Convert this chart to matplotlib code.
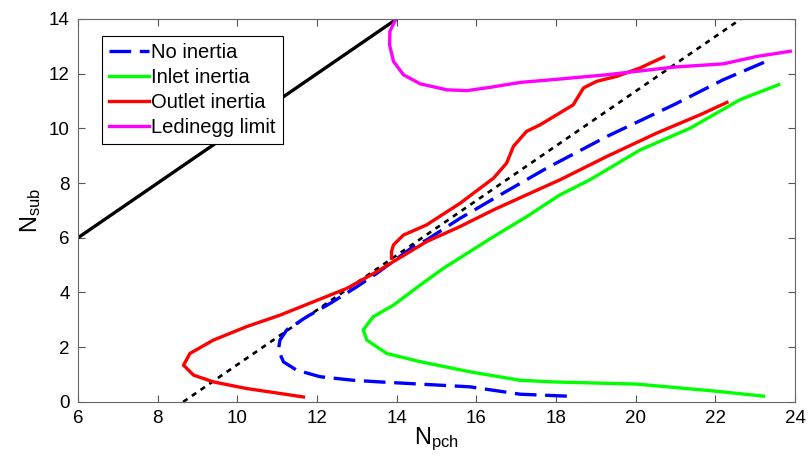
import matplotlib
matplotlib.use('Agg')
from matplotlib import pyplot as plt
import numpy as np

plt.rcParams['font.family'] = ['Liberation Sans', 'DejaVu Sans']
plt.rcParams['mathtext.default'] = 'regular'

# No inertia (blue dashed)
no_x = [18.27, 17.10, 15.84, 14.59, 13.58, 12.91, 12.08, 11.49, 11.16, 11.03, 11.07, 11.24,
        11.74, 12.33, 13.00, 13.50, 14.42, 14.75, 15.59, 16.60, 17.77, 19.27, 20.95,
        22.20, 23.42]
no_y = [0.21, 0.28, 0.55, 0.65, 0.73, 0.79, 0.92, 1.16, 1.46, 1.89, 2.26, 2.63,
        3.11, 3.60, 4.21, 4.70, 5.68, 5.92, 6.71, 7.57, 8.55, 9.70, 10.86,
        11.78, 12.54]

# Inlet inertia (green)
in_x = [23.21, 21.95, 20.03, 17.93, 17.10, 15.84, 14.59, 13.75, 13.25, 13.16, 13.41, 13.92,
        14.59, 15.17, 16.43, 17.26, 18.10, 18.85, 20.11, 21.37, 22.62, 23.59]
in_y = [0.21, 0.40, 0.65, 0.73, 0.79, 1.10, 1.47, 1.77, 2.26, 2.63, 3.11, 3.54,
        4.27, 4.88, 6.04, 6.77, 7.57, 8.12, 9.21, 10.01, 11.05, 11.60]

# Outlet inertia (red), main branch
out_x = [11.66, 10.23, 9.40, 8.90, 8.65, 8.81, 9.40, 10.23, 11.07, 11.91, 12.75,
         13.50, 13.92, 14.75, 15.59, 16.43, 17.26, 18.10, 19.27, 20.53, 21.62, 22.29]
out_y = [0.18, 0.49, 0.73, 0.98, 1.34, 1.77, 2.26, 2.75, 3.17, 3.66, 4.15,
         4.76, 5.13, 5.86, 6.41, 7.02, 7.57, 8.12, 8.97, 9.83, 10.50, 10.95]
# Outlet inertia, upper branch
out2_x = [13.87, 13.87, 13.92, 14.17, 14.75, 15.59, 16.43, 16.76, 16.93, 17.26, 17.60,
          18.43, 18.69, 19.02, 19.52, 20.11, 20.70]
out2_y = [5.25, 5.50, 5.74, 6.10, 6.47, 7.26, 8.18, 8.73, 9.34, 9.89, 10.13,
          10.86, 11.48, 11.72, 11.90, 12.21, 12.61]

# Ledinegg limit (magenta)
led_x = [13.96, 13.83, 13.82, 13.92, 14.17, 14.59, 15.26, 15.76, 16.34, 17.10, 18.06,
         19.27, 20.95, 22.20, 23.04, 23.88]
led_y = [13.94, 13.55, 13.06, 12.45, 11.96, 11.63, 11.41, 11.38, 11.50, 11.68, 11.80,
         11.96, 12.24, 12.36, 12.63, 12.82]

# reference lines
diag_x = [6, 14]
diag_y = [6, 14]
dot_x = [8.64, 22.64]
dot_y = [0, 14]

fig = plt.figure(figsize=(8.08, 4.63), dpi=100)
ax = fig.add_axes([0.0965, 0.132, 0.8875, 0.827])

lw = 2.4
ax.plot(diag_x, diag_y, color='k', lw=lw)
ax.plot(dot_x, dot_y, color='k', lw=1.9, linestyle=(0, (2.0, 2.0)))
ax.plot(no_x, no_y, color='b', lw=lw, linestyle=(0, (6.5, 2.6)), label='No inertia')
ax.plot(in_x, in_y, color='#00ff00', lw=lw, label='Inlet inertia')
ax.plot(out_x, out_y, color='r', lw=lw, label='Outlet inertia')
ax.plot(out2_x, out2_y, color='r', lw=lw)
ax.plot(led_x, led_y, color='#ff00ff', lw=lw, label='Ledinegg limit')

ax.set_xlim(6, 24)
ax.set_ylim(0, 14)
ax.set_xticks(np.arange(6, 25, 2))
ax.set_yticks(np.arange(0, 15, 2))
ax.tick_params(direction='in', top=True, right=True, labelsize=13.5, length=5,
               color='#555555', pad=6)
for s in ax.spines.values():
    s.set_color('#666666')

ax.set_xlabel(r'$N_{pch}$', fontsize=17, labelpad=-1)
ax.set_ylabel(r'$N_{sub}$', fontsize=17, labelpad=4)

leg = ax.legend(loc='upper left', bbox_to_anchor=(0.033, 0.956), borderaxespad=0,
                fancybox=False, edgecolor='k', framealpha=1, fontsize=14.5,
                handlelength=2.0, handletextpad=0.1, borderpad=0.35, labelspacing=0.3)
leg.get_frame().set_linewidth(0.8)

fig.savefig('out.png', dpi=100)
